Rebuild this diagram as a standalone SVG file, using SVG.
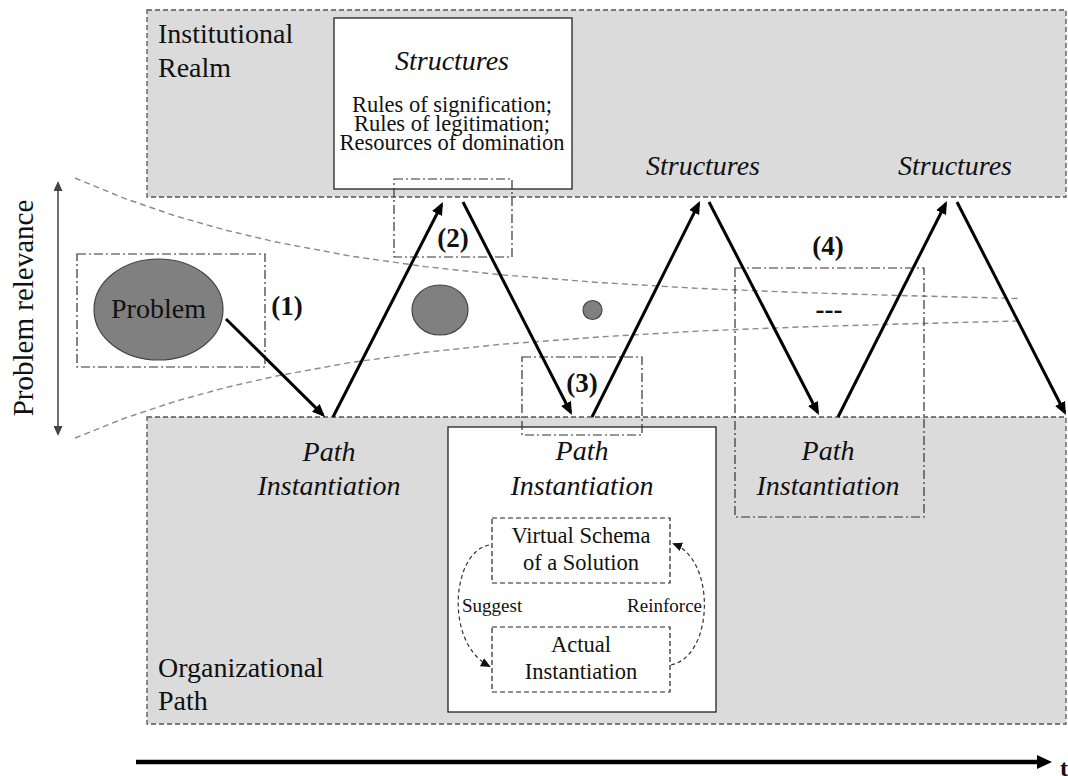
<svg xmlns="http://www.w3.org/2000/svg" width="1068" height="776" viewBox="0 0 1068 776">
  <style>
    .realm { fill: #dbdbdb; stroke: #555; stroke-width: 1.3; stroke-dasharray: 5 3; }
    .panel { fill: #ffffff; stroke: #222; stroke-width: 1.3; }
    .inner { fill: none; stroke: #222; stroke-width: 1.2; stroke-dasharray: 5 3; }
    .focus { fill: none; stroke: #333; stroke-width: 1.2; stroke-dasharray: 9 3 2 3; }
    .funnel { fill: none; stroke: #8a8a8a; stroke-width: 1.4; stroke-dasharray: 6 4; }
    .zig { fill: none; stroke: #000; stroke-width: 3; }
    .loop { fill: none; stroke: #333; stroke-width: 1.2; stroke-dasharray: 4 3; }
    .blob { fill: #808080; stroke: #444; stroke-width: 1.2; }
    .t { fill: #111; font-family: "Liberation Serif", "DejaVu Serif", serif; }
    .big { font-size: 28px; }
    .mid { font-size: 22.5px; }
    .small { font-size: 19px; }
    .num { font-size: 27px; font-weight: bold; }
    .it { font-style: italic; }
  </style>
  <defs>
    <marker id="head" markerUnits="userSpaceOnUse" markerWidth="14" markerHeight="11" refX="10" refY="5.5" orient="auto">
      <path d="M0,0 L13,5.5 L0,11 Z" fill="#000"/>
    </marker>
    <marker id="headBig" markerUnits="userSpaceOnUse" markerWidth="16" markerHeight="14" refX="8" refY="7" orient="auto">
      <path d="M0,0 L15,7 L0,14 Z" fill="#000"/>
    </marker>
    <marker id="headThin" markerUnits="userSpaceOnUse" markerWidth="10" markerHeight="9" refX="8" refY="4.5" orient="auto-start-reverse">
      <path d="M0,0 L10,4.5 L0,9 Z" fill="#444"/>
    </marker>
    <marker id="headLoop" markerUnits="userSpaceOnUse" markerWidth="10" markerHeight="9" refX="8" refY="4.5" orient="auto">
      <path d="M0,0 L10,4.5 L0,9 Z" fill="#111"/>
    </marker>
  </defs>

  <!-- realms -->
  <g id="institutional-realm">
    <rect class="realm" x="147" y="10" width="919" height="187"/>
    <text class="t big" x="158" y="43">Institutional</text>
    <text class="t big" x="158" y="77">Realm</text>
  </g>
  <g id="organizational-path">
    <rect class="realm" x="147" y="417" width="919" height="307"/>
    <text class="t big" x="158" y="677">Organizational</text>
    <text class="t big" x="158" y="710">Path</text>
  </g>

  <!-- structures detail -->
  <g id="structures-main">
    <rect class="panel" x="334" y="18" width="238" height="171"/>
    <text class="t big it" x="452" y="70" text-anchor="middle">Structures</text>
    <text class="t mid" x="452" y="112" text-anchor="middle">Rules of signification;</text>
    <text class="t mid" x="452" y="131" text-anchor="middle">Rules of legitimation;</text>
    <text class="t mid" x="452" y="150" text-anchor="middle">Resources of domination</text>
  </g>
  <g id="structures-2">
    <text class="t big it" x="703" y="175" text-anchor="middle">Structures</text>
  </g>
  <g id="structures-3">
    <text class="t big it" x="955" y="175" text-anchor="middle">Structures</text>
  </g>

  <!-- path instantiations -->
  <g id="path-instantiation-1">
    <text class="t big it" x="329" y="461" text-anchor="middle">Path</text>
    <text class="t big it" x="329" y="495" text-anchor="middle">Instantiation</text>
  </g>
  <g id="path-instantiation-2">
    <rect class="panel" x="448" y="427" width="268" height="285"/>
    <text class="t big it" x="582" y="460" text-anchor="middle">Path</text>
    <text class="t big it" x="582" y="495" text-anchor="middle">Instantiation</text>
  </g>
  <g id="virtual-schema">
    <rect class="inner" x="492" y="518" width="178" height="65"/>
    <text class="t mid" x="581" y="543" text-anchor="middle">Virtual Schema</text>
    <text class="t mid" x="581" y="570" text-anchor="middle">of a Solution</text>
  </g>
  <g id="actual-instantiation">
    <rect class="inner" x="492" y="627" width="178" height="65"/>
    <text class="t mid" x="581" y="652" text-anchor="middle">Actual</text>
    <text class="t mid" x="581" y="679" text-anchor="middle">Instantiation</text>
  </g>
  <g id="path-instantiation-3">
    <text class="t big it" x="828" y="460" text-anchor="middle">Path</text>
    <text class="t big it" x="828" y="495" text-anchor="middle">Instantiation</text>
  </g>

  <!-- problem relevance funnel -->
  <g id="funnel">
    <polyline class="funnel" points="75,178 125,198.6 175,215.8 225,230 275,241.8 350,256 425,266.6 500,274.7 600,282.6 700,288.5 800,292.5 900,295.5 1018,298.5"/>
    <polyline class="funnel" points="75,438 125,418.1 175,401.4 225,387.7 275,376.3 350,362.6 425,352.3 500,344.4 600,336.9 700,331 800,327 900,324 1018,321"/>
  </g>
  <g id="problem-axis">
    <line x1="58" y1="183" x2="58" y2="434" stroke="#444" stroke-width="1.5" marker-start="url(#headThin)" marker-end="url(#headThin)"/>
    <text class="t" font-size="29" transform="translate(33,308) rotate(-90)" text-anchor="middle">Problem relevance</text>
  </g>

  <!-- problem shrinking over time -->
  <g id="problem">
    <ellipse class="blob" cx="158.5" cy="309.5" rx="64.5" ry="50.5"/>
    <text class="t big" x="158.5" y="318" text-anchor="middle">Problem</text>
  </g>
  <g id="problem-2">
    <ellipse class="blob" cx="440" cy="310" rx="28" ry="25"/>
  </g>
  <g id="problem-3">
    <circle class="blob" cx="592.5" cy="310" r="9.5"/>
  </g>
  <g id="problem-4">
    <text class="t num" x="829" y="318" text-anchor="middle">---</text>
  </g>

  <!-- numbered focus frames -->
  <g id="focus-1">
    <rect class="focus" x="77" y="254" width="188" height="113"/>
    <text class="t num" x="287" y="315" text-anchor="middle">(1)</text>
  </g>
  <g id="focus-2">
    <rect class="focus" x="394" y="179" width="118" height="78"/>
    <text class="t num" x="453" y="247" text-anchor="middle">(2)</text>
  </g>
  <g id="focus-3">
    <rect class="focus" x="522" y="357" width="120" height="78"/>
    <text class="t num" x="582" y="392" text-anchor="middle">(3)</text>
  </g>
  <g id="focus-4">
    <rect class="focus" x="735" y="268" width="189" height="249"/>
    <text class="t num" x="828" y="255" text-anchor="middle">(4)</text>
  </g>

  <!-- connectors -->
  <g id="connectors">
    <line class="zig" x1="226" y1="319" x2="322.9" y2="414.9" marker-end="url(#head)"/>
    <line class="zig" x1="333" y1="417" x2="441.6" y2="204.7" marker-end="url(#head)"/>
    <line class="zig" x1="463" y1="202" x2="570.6" y2="412.3" marker-end="url(#head)"/>
    <line class="zig" x1="592" y1="417" x2="698.7" y2="203.7" marker-end="url(#head)"/>
    <line class="zig" x1="709" y1="202" x2="817.6" y2="412.3" marker-end="url(#head)"/>
    <line class="zig" x1="838" y1="417" x2="945.6" y2="203.7" marker-end="url(#head)"/>
    <line class="zig" x1="957" y1="202" x2="1064.6" y2="412.3" marker-end="url(#head)"/>
    <path class="loop" d="M489,545 C452,552 444,642 489,666" marker-end="url(#headLoop)"/>
    <path class="loop" d="M671,665 C714,656 716,560 674,544" marker-end="url(#headLoop)"/>
    <line x1="136" y1="762" x2="1045" y2="762" stroke="#000" stroke-width="4.5" marker-end="url(#headBig)"/>
  </g>

  <g id="loop-labels">
    <text class="t small" x="462" y="612">Suggest</text>
    <text class="t small" x="702" y="612" text-anchor="end">Reinforce</text>
  </g>

  <g id="time-label">
    <text class="t" font-size="24" font-weight="bold" x="1060" y="776">t</text>
  </g>
</svg>
